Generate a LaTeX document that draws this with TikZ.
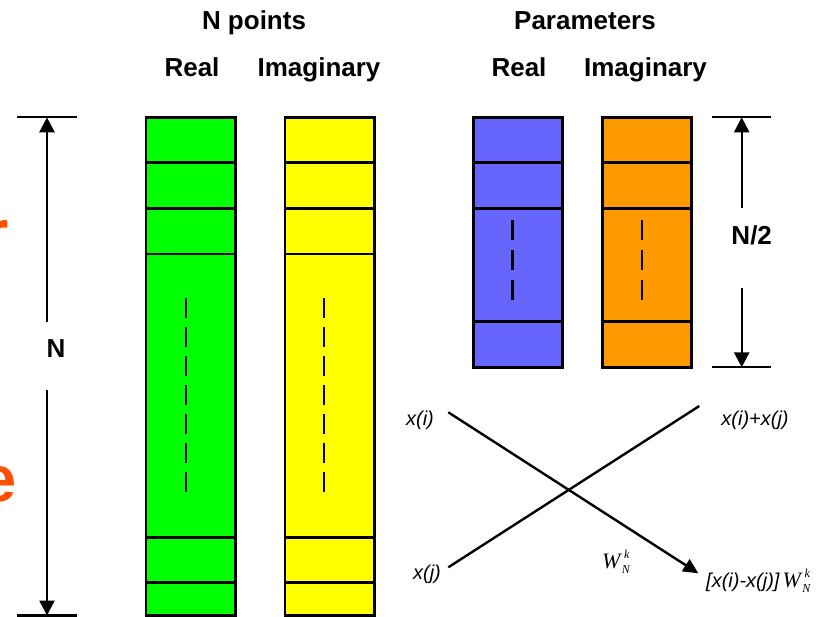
\documentclass[tikz,border=0pt]{standalone}
\usepackage{fontspec}
\setmainfont{Liberation Sans}
\newfontfamily\wfont{Liberation Serif}
\usetikzlibrary{arrows.meta}

\definecolor{cellgreen}{RGB}{0,255,0}
\definecolor{cellyellow}{RGB}{255,255,0}
\definecolor{cellblue}{RGB}{102,102,255}
\definecolor{cellorange}{RGB}{255,153,0}
\definecolor{titleorange}{RGB}{255,80,0}

% twiddle factor W_N^k set in serif italic with stacked indices
\newcommand{\twiddle}{{\wfont\itshape\fontsize{22}{24}\selectfont W}\kern1.5pt%
  \raisebox{-5pt}{\wfont\itshape\fontsize{12}{13}\selectfont N}%
  \llap{\raisebox{10pt}{\wfont\itshape\fontsize{12}{13}\selectfont k}\kern0.5pt}}

\tikzset{
  hdr/.style={font=\fontsize{26}{30}\selectfont\bfseries, inner sep=0pt},
  lbl/.style={font=\fontsize{20}{24}\selectfont\itshape, inner sep=0pt},
  twid/.style={inner sep=0pt},
  bigtxt/.style={font=\fontsize{65}{70}\selectfont\bfseries, text=titleorange, inner sep=0pt},
  cellframe/.style={draw=black, line width=2.6pt},
  divider/.style={line width=2.6pt},
  ellip/.style={line width=2.6pt, dash pattern=on 20pt off 9pt},
  ellipb/.style={line width=2.6pt, dash pattern=on 20pt off 10pt},
  tickline/.style={line width=2.2pt},
  dimarrow/.style={line width=2.4pt, -{Triangle[length=15pt,width=15pt]}},
  wire/.style={line width=2.4pt},
}

\begin{document}
\begin{tikzpicture}[x=1pt,y=-1pt]
\useasboundingbox (0,0) rectangle (829,617);
\clip (0,0) rectangle (829,617);

% partial orange title letters at the left edge
\node[bigtxt, anchor=base east] (ttlr) at (9,256) {r};
\node[bigtxt, anchor=base east] (ttle) at (17.3,501) {e};

% column headings
\node[hdr, anchor=base] (hnp) at (254,29.3) {N points};
\node[hdr, anchor=base] (hpar) at (585,29.3) {Parameters};
\node[hdr, anchor=base] (hre1) at (192,76.7) {Real};
\node[hdr, anchor=base] (him1) at (319,76.7) {Imaginary};
\node[hdr, anchor=base] (hre2) at (519,76.7) {Real};
\node[hdr, anchor=base] (him2) at (645.5,76.7) {Imaginary};

% N-point data columns
\foreach \xl/\xr/\c/\xm in {145.8/235.3/cellgreen/186, 285/374.5/cellyellow/324}{
  \filldraw[cellframe, fill=\c] (\xl,117.3) rectangle (\xr,615.5);
  \foreach \yy in {162.6,208.4,254,537.7,582.7}
    \draw[divider] (\xl,\yy) -- (\xr,\yy);
  \draw[ellip] (\xm,298) -- (\xm,492);
}

% N/2 parameter columns
\foreach \xl/\xr/\c/\xm in {473.3/562.7/cellblue/512.7, 602.7/691.7/cellorange/642}{
  \filldraw[cellframe, fill=\c] (\xl,117.3) rectangle (\xr,367.3);
  \foreach \yy in {162.7,208.7,321.7}
    \draw[divider] (\xl,\yy) -- (\xr,\yy);
  \draw[ellipb] (\xm,220) -- (\xm,300);
}

% dimension N
\node[hdr, anchor=center] (dimN) at (56,348.5) {N};
\coordinate (nTop) at (47,117.3);
\coordinate (nBot) at (47,615.5);
\coordinate (nUp) at (47,321.7);
\coordinate (nDn) at (47,390);
\draw[tickline] (17,117.3) -- (77,117.3);
\draw[tickline] (17,615.5) -- (77,615.5);
\draw[dimarrow] (nUp) -- (nTop);
\draw[dimarrow] (nDn) -- (nBot);

% dimension N/2
\node[hdr, anchor=center] (dimH) at (751.7,235.3) {N/2};
\coordinate (hTop) at (741.7,117.3);
\coordinate (hBot) at (741.7,367.3);
\coordinate (hUp) at (741.7,208);
\coordinate (hDn) at (741.7,288);
\draw[tickline] (711.7,117.3) -- (771,117.3);
\draw[tickline] (711.7,367.3) -- (771,367.3);
\draw[dimarrow] (hUp) -- (hTop);
\draw[dimarrow] (hDn) -- (hBot);

% butterfly
\node[lbl] (xi) at (420,420) {x(i)};
\node[lbl] (xj) at (427,574) {x(j)};
\node[lbl] (sum) at (755,420) {x(i)+x(j)};
\node[twid] (tw) at (616,562) {\twiddle};
\node[lbl, anchor=west] (dif) at (706,581) {[x(i)-x(j)]\kern3pt{\upshape\twiddle}};
\coordinate (aIn) at (448.3,412.3);
\coordinate (aOut) at (698.3,573.3);
\coordinate (bIn) at (448.3,567.3);
\coordinate (bOut) at (699.3,406);
\draw[wire, -{Triangle[length=15pt,width=14pt]}] (aIn) -- (aOut);
\draw[wire] (bIn) -- (bOut);
\end{tikzpicture}
\end{document}
